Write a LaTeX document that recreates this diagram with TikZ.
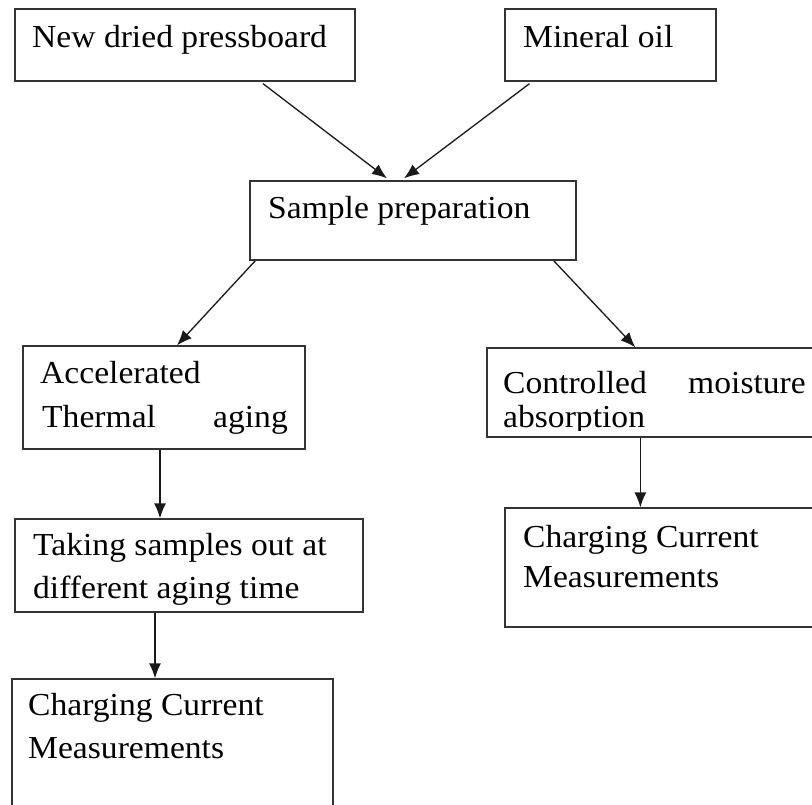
\documentclass[tikz,border=0pt]{standalone}
\usepackage{fontspec}
\setmainfont[FakeStretch=1.05]{Liberation Serif}
\usetikzlibrary{arrows.meta}
\tikzset{
  box/.style={draw=black!80, line width=1.3pt, rectangle, inner sep=0pt},
  txt/.style={inner sep=0pt, font=\fontsize{32}{38}\selectfont},
  arr/.style={draw=black!90, line width=1.3pt, -{Latex[length=15pt,width=12pt]}}
}
\begin{document}
\begin{tikzpicture}[x=1pt,y=-1pt]
\clip (0,0) rectangle (812,804);
\fill[white] (0,0) rectangle (812,804);
% boxes
\node[box, minimum width=340pt, minimum height=72pt] (b1) at (185,45) {};
\node[box, minimum width=211pt, minimum height=72pt] (b2) at (610.5,45) {};
\node[box, minimum width=326pt, minimum height=79pt] (b3) at (413,220.5) {};
\node[box, minimum width=282pt, minimum height=103pt] (b4) at (164,397.5) {};
\node[box, minimum width=343pt, minimum height=89pt] (b5) at (658.5,392.5) {};
\node[box, minimum width=348pt, minimum height=93pt] (b6) at (189,565.5) {};
\node[box, minimum width=325pt, minimum height=119pt] (b7) at (667.5,567.5) {};
\node[box, minimum width=321pt, minimum height=151pt] (b8) at (172.5,754.5) {};
% texts
\node[txt, anchor=base west] (t1) at (32,47) {New dried pressboard};
\node[txt, anchor=base west] (t2) at (523,47) {Mineral oil};
\node[txt, anchor=base west] (t3) at (268,218) {Sample preparation};
\node[txt, anchor=base west] (t4a) at (40,383) {Accelerated};
\node[txt, anchor=base west] (t4b) at (42,427) {Thermal};
\node[txt, anchor=base east] (t4c) at (288,427) {aging};
\node[txt, anchor=base west] (t5a) at (503,393) {Controlled};
\node[txt, anchor=base east] (t5b) at (806,393) {moisture};
\begin{scope}
\clip (480,350) rectangle (812,430);
\node[txt, anchor=base west] (t5c) at (503,427) {absorption};
\end{scope}
\node[txt, anchor=base west] (t6a) at (33,555) {Taking samples out at};
\node[txt, anchor=base west] (t6b) at (33,598) {different aging time};
\node[txt, anchor=base west] (t7a) at (523,547) {Charging Current};
\node[txt, anchor=base west] (t7b) at (523,587) {Measurements};
\node[txt, anchor=base west] (t8a) at (28,715) {Charging Current};
\node[txt, anchor=base west] (t8b) at (28,758) {Measurements};
% connectors
\draw[arr] ([xshift=78pt,yshift=-2pt]b1.south) -- ([xshift=-26pt,yshift=2pt]b3.north);
\draw[arr] ([xshift=-81pt,yshift=-2pt]b2.south) -- ([xshift=-9pt,yshift=2pt]b3.north);
\draw[arr] ([xshift=6pt]b3.south west) -- ([xshift=13pt]b4.north);
\draw[arr] ([xshift=-23pt]b3.south east) -- ([xshift=149pt]b5.north west);
\draw[arr] ([xshift=-4pt]b4.south) -- ([xshift=-4pt]b4.south |- b6.north);
\draw[arr] ([xshift=-34pt]b6.south) -- ([xshift=-34pt]b6.south |- b8.north);
\draw[arr] ([xshift=154pt]b5.south west) -- ([xshift=154pt]b5.south west |- b7.north);
\end{tikzpicture}
\end{document}
